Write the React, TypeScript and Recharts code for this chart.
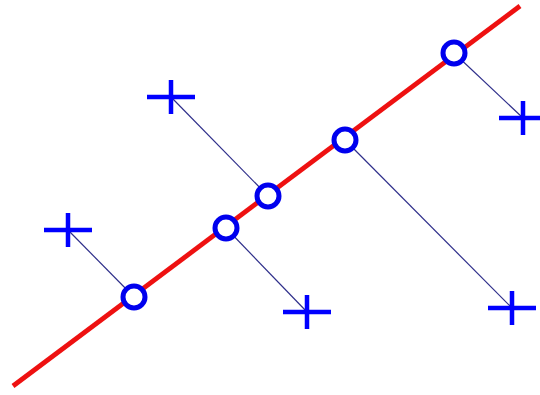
import React from "react";
import { ComposedChart, Scatter, XAxis, YAxis } from "recharts";

// Observed points (+)
const observedX = [68, 171, 307, 523, 512];
const observedY = [165, 298, 83, 277, 87];
// Projections onto the fitted line (o), same order as observed
const projectedX = [134, 268, 226, 454, 345];
const projectedY = [98, 199, 167, 342, 255];
// Fitted line end points
const lineX = [13, 520];
const lineY = [9, 389];

const observed = observedX.map((x, i) => ({ x, y: observedY[i] }));
const projected = projectedX.map((x, i) => ({ x, y: projectedY[i] }));
const fitLine = lineX.map((x, i) => ({ x, y: lineY[i] }));
const segments = observedX.map((_, i) => [observed[i], projected[i]]);

const Plus = (props: any) => {
  const { cx, cy } = props;
  if (cx == null || cy == null) return null;
  return (
    <path
      d={`M${cx - 24},${cy} L${cx + 24},${cy} M${cx},${cy - 17} L${cx},${cy + 17}`}
      stroke="#0000ff"
      strokeWidth={4.5}
      fill="none"
    />
  );
};

const Ring = (props: any) => {
  const { cx, cy } = props;
  if (cx == null || cy == null) return null;
  return <circle cx={cx} cy={cy} r={11} stroke="#0000ee" strokeWidth={5} fill="#ffffff" />;
};

const Nothing = () => null;

export default function App() {
  return (
    <div style={{ position: "absolute", left: 0, top: 0, width: 540, height: 395, background: "#fff" }}>
      <ComposedChart width={540} height={395} margin={{ top: 0, right: 0, bottom: 0, left: 0 }}>
        <XAxis type="number" dataKey="x" domain={[0, 540]} hide />
        <YAxis type="number" dataKey="y" domain={[0, 395]} hide />
        <Scatter
          data={fitLine}
          line={{ stroke: "#ee1111", strokeWidth: 4.8 }}
          shape={Nothing}
          isAnimationActive={false}
        />
        {segments.map((seg, i) => (
          <Scatter
            key={i}
            data={seg}
            line={{ stroke: "#2e2e8a", strokeWidth: 1.2 }}
            shape={Nothing}
            isAnimationActive={false}
          />
        ))}
        <Scatter data={projected} shape={Ring} isAnimationActive={false} />
        <Scatter data={observed} shape={Plus} isAnimationActive={false} />
      </ComposedChart>
    </div>
  );
}
